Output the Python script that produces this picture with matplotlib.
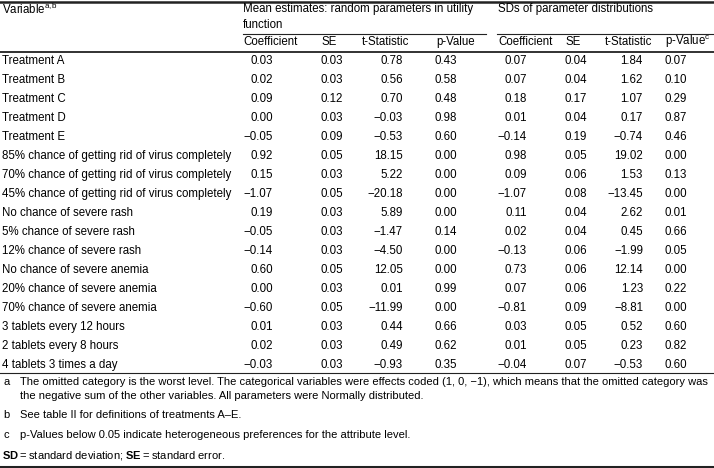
import matplotlib
matplotlib.use("Agg")
import matplotlib.pyplot as plt

plt.rcParams['font.family'] = ['Liberation Sans', 'DejaVu Sans']
plt.rcParams['mathtext.fontset'] = 'custom'
plt.rcParams['mathtext.rm'] = 'Liberation Sans'
plt.rcParams['mathtext.bf'] = 'Liberation Sans:bold'

variables = ['Treatment A', 'Treatment B', 'Treatment C', 'Treatment D', 'Treatment E',
             '85% chance of getting rid of virus completely',
             '70% chance of getting rid of virus completely',
             '45% chance of getting rid of virus completely',
             'No chance of severe rash', '5% chance of severe rash', '12% chance of severe rash',
             'No chance of severe anemia', '20% chance of severe anemia', '70% chance of severe anemia',
             '3 tablets every 12 hours', '2 tablets every 8 hours', '4 tablets 3 times a day']

mean_coef = [0.03, 0.02, 0.09, 0.00, -0.05, 0.92, 0.15, -1.07, 0.19, -0.05, -0.14, 0.60, 0.00, -0.60, 0.01, 0.02, -0.03]
mean_se = [0.03, 0.03, 0.12, 0.03, 0.09, 0.05, 0.03, 0.05, 0.03, 0.03, 0.03, 0.05, 0.03, 0.05, 0.03, 0.03, 0.03]
mean_t = [0.78, 0.56, 0.70, -0.03, -0.53, 18.15, 5.22, -20.18, 5.89, -1.47, -4.50, 12.05, 0.01, -11.99, 0.44, 0.49, -0.93]
mean_p = [0.43, 0.58, 0.48, 0.98, 0.60, 0.00, 0.00, 0.00, 0.00, 0.14, 0.00, 0.00, 0.99, 0.00, 0.66, 0.62, 0.35]

sd_coef = [0.07, 0.07, 0.18, 0.01, -0.14, 0.98, 0.09, -1.07, 0.11, 0.02, -0.13, 0.73, 0.07, -0.81, 0.03, 0.01, -0.04]
sd_se = [0.04, 0.04, 0.17, 0.04, 0.19, 0.05, 0.06, 0.08, 0.04, 0.04, 0.06, 0.06, 0.06, 0.09, 0.05, 0.05, 0.07]
sd_t = [1.84, 1.62, 1.07, 0.17, -0.74, 19.02, 1.53, -13.45, 2.62, 0.45, -1.99, 12.14, 1.23, -8.81, 0.52, 0.23, -0.53]
sd_p = [0.07, 0.10, 0.29, 0.87, 0.46, 0.00, 0.13, 0.00, 0.01, 0.66, 0.05, 0.00, 0.22, 0.00, 0.60, 0.82, 0.60]

col_headers = ['Coefficient', 'SE', 't-Statistic', 'p-Value', 'Coefficient', 'SE', 't-Statistic', r'p-Value$^{\mathrm{c}}$']
footnotes = [
    ('a', 'The omitted category is the worst level. The categorical variables were effects coded (1, 0, \u22121), which means that the omitted category was\nthe negative sum of the other variables. All parameters were Normally distributed.'),
    ('b', 'See table II for definitions of treatments A\u2013E.'),
    ('c', 'p-Values below 0.05 indicate heterogeneous preferences for the attribute level.'),
]

fig = plt.figure(figsize=(7.14, 4.68), dpi=100)
ax = fig.add_axes([0, 0, 1, 1])
ax.set_xlim(0, 714)
ax.set_ylim(468, 0)
ax.axis('off')

fs = 8.3
fsn = 8.0

def fmt(v):
    s = '%.2f' % abs(v)
    return ('\u2212' + s) if v < 0 else s

# rules
ax.plot([0, 714], [1.5, 1.5], color='#222222', lw=1.8)
ax.plot([243, 486], [34, 34], color='#222222', lw=0.8)
ax.plot([497, 714], [34, 34], color='#222222', lw=0.8)
ax.plot([0, 714], [51.5, 51.5], color='#222222', lw=1.3)
ax.plot([0, 714], [373, 373], color='#222222', lw=0.8)
ax.plot([0, 714], [466.5, 466.5], color='#222222', lw=2.2)

# headers
ax.text(2, 9, r'Variable$^{\mathrm{a{,}b}}$', fontsize=fs, va='center', ha='left')
ax.text(243, 9, 'Mean estimates: random parameters in utility', fontsize=fs, va='center')
ax.text(243, 25, 'function', fontsize=fs, va='center')
ax.text(498, 9, 'SDs of parameter distributions', fontsize=fs, va='center')
hx = [243, 322, 362, 436, 498, 565, 605, 665]
for x, h in zip(hx, col_headers):
    ax.text(x, 42, h, fontsize=fs, va='center', ha='left')

# body
right = [273, 343, 403, 457, 527, 587, 643, 687]
cols = [mean_coef, mean_se, mean_t, mean_p, sd_coef, sd_se, sd_t, sd_p]
for i, name in enumerate(variables):
    y = 61 + i * 19
    ax.text(2, y, name, fontsize=fs, va='center', ha='left')
    for x, c in zip(right, cols):
        ax.text(x, y, fmt(c[i]), fontsize=fs, va='center', ha='right')

# footnotes
ax.text(3, 382, footnotes[0][0], fontsize=fsn, va='center')
ax.text(20, 382, footnotes[0][1].split('\n')[0], fontsize=fsn, va='center')
ax.text(20, 396, footnotes[0][1].split('\n')[1], fontsize=fsn, va='center')
ax.text(3, 415, footnotes[1][0], fontsize=fsn, va='center')
ax.text(20, 415, footnotes[1][1], fontsize=fsn, va='center')
ax.text(3, 435, footnotes[2][0], fontsize=fsn, va='center')
ax.text(20, 435, footnotes[2][1], fontsize=fsn, va='center')
ax.text(2, 455, '$\\mathbf{SD}$\u2009=\u2009standard deviation; $\\mathbf{SE}$\u2009=\u2009standard error.',
        fontsize=fsn, va='center', ha='left')

fig.savefig('out.png', dpi=100)
